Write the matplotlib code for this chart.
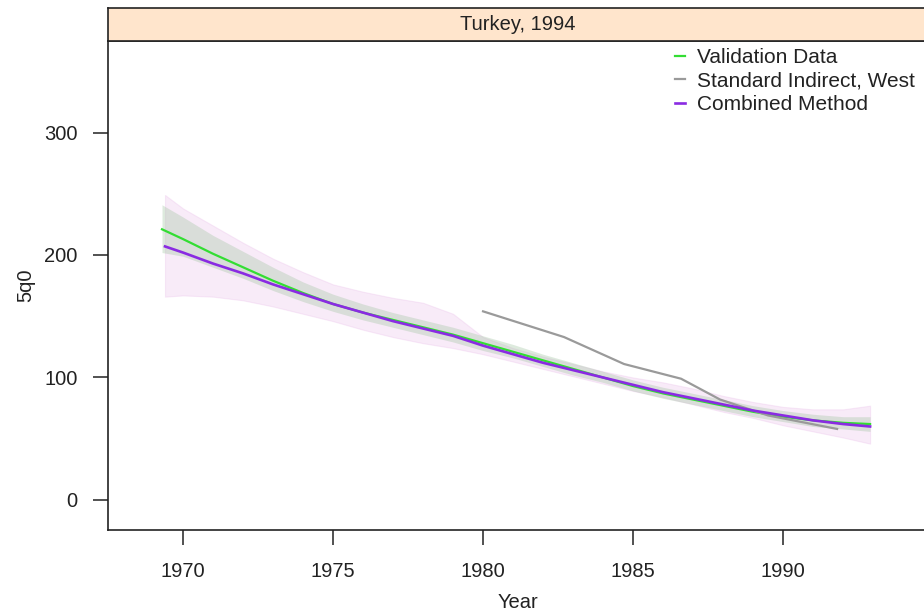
import numpy as np
import matplotlib
matplotlib.use("Agg")
import matplotlib.pyplot as plt

plt.rcParams['font.family'] = ['Liberation Sans', 'DejaVu Sans']

# validation data (line + band)
val_year = [1969.3, 1970, 1971, 1972, 1973, 1974, 1975, 1976, 1977, 1978, 1979, 1980,
            1981, 1982, 1983, 1984, 1985, 1986, 1987, 1988, 1989, 1990, 1991, 1992, 1992.9]
val_mid = [221, 213, 201, 190, 179, 169, 160, 153, 147, 141, 135, 128,
           121, 114, 107, 100, 93, 87, 82, 77, 72, 68, 65, 63, 62]
val_lo = [202, 199, 190, 181, 171, 162, 154, 147, 141, 135, 129, 122,
          116, 109, 102, 96, 89, 83, 78, 73, 68, 64, 60, 58, 56]
val_hi = [241, 231, 216, 203, 190, 178, 168, 160, 153, 147, 141, 134,
          127, 119, 112, 105, 98, 92, 87, 82, 77, 73, 70, 68, 68]

# combined method (line + band)
comb_year = [1969.4, 1970, 1971, 1972, 1973, 1974, 1975, 1976, 1977, 1978, 1979, 1980,
             1981, 1982, 1983, 1984, 1985, 1986, 1987, 1988, 1989, 1990, 1991, 1992, 1992.9]
comb_mid = [207, 202, 193, 185, 176, 168, 160, 153, 146, 140, 134, 126,
            119, 112, 106, 100, 94, 88, 83, 78, 73, 69, 65, 62, 60]
comb_lo = [166, 167, 166, 163, 158, 152, 146, 139, 133, 128, 124, 119,
           113, 107, 101, 95, 89, 84, 78, 72, 67, 61, 56, 51, 46]
comb_hi = [249, 238, 224, 210, 197, 186, 176, 170, 165, 161, 152, 133,
           124, 117, 111, 105, 100, 96, 91, 85, 80, 76, 74, 74, 77]

# standard indirect, west
ind_year = [1980.0, 1982.7, 1984.7, 1986.6, 1987.9, 1989.5, 1991.8]
ind_val = [154, 133, 111, 99, 82, 69, 58]

green = '#33dd33'
purple = '#8a2be2'
grey = '#9a9a9a'

fig = plt.figure(figsize=(9.24, 6.11), dpi=100)
W, H = 924, 611
ax = fig.add_axes([108 / W, (611 - 530) / H, (928 - 108) / W, (530 - 41) / H])
strip = fig.add_axes([108 / W, (611 - 41) / H, (928 - 108) / W, (41 - 8) / H])

ax.fill_between(comb_year, comb_lo, comb_hi, color='#e8b8e8', alpha=0.28, lw=0.8,
                edgecolor='#e8b8e8')
ax.fill_between(val_year, val_lo, val_hi, color='#a0c4a0', alpha=0.35, lw=0)
ax.plot(val_year, val_mid, color=green, lw=1.6, label='Validation Data')
ax.plot(ind_year, ind_val, color=grey, lw=1.6, label='Standard Indirect, West')
ax.plot(comb_year, comb_mid, color=purple, lw=1.9, label='Combined Method')

ax.set_xlim(1967.5, 1994.83)
ax.set_ylim(-24.5, 374.7)
ax.set_xticks([1970, 1975, 1980, 1985, 1990])
ax.set_yticks([0, 100, 200, 300])
ax.tick_params(labelsize=14.5, length=11, width=1.1, colors='#222222',
               right=False, top=False)
ax.tick_params(axis='x', pad=12)
ax.tick_params(axis='y', pad=11)
for s in ax.spines.values():
    s.set_linewidth(1.2)
    s.set_color('#222222')
ax.set_xlabel('Year', fontsize=14.5, color='#222222', labelpad=9)
ax.set_ylabel('5q0', fontsize=14.5, color='#222222', labelpad=6)

leg = ax.legend(loc='upper left', bbox_to_anchor=(675 / W, (611 - 48) / H),
                bbox_transform=fig.transFigure, frameon=False, fontsize=15,
                handlelength=0.5, handletextpad=0.55, labelspacing=0.22,
                borderpad=0, borderaxespad=0)
for t in leg.get_texts():
    t.set_color('#222222')

strip.set_facecolor('#ffe5cc')
strip.set_xticks([])
strip.set_yticks([])
for s in strip.spines.values():
    s.set_linewidth(1.2)
    s.set_color('#222222')
strip.text(0.5, 0.5, 'Turkey, 1994', ha='center', va='center', fontsize=14.5,
           color='#222222', transform=strip.transAxes)

fig.savefig('out.png', dpi=100)
